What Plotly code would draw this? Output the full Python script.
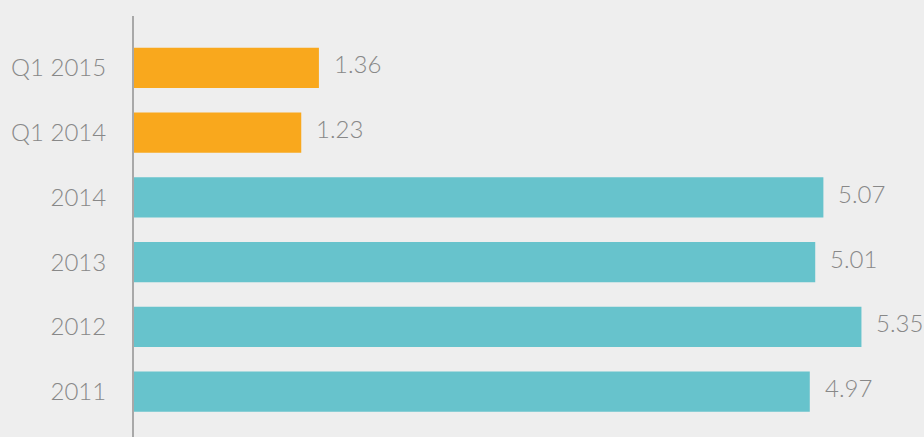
import plotly.graph_objects as go

# Periods (bottom to top) and their values
periods = ["2011", "2012", "2013", "2014", "Q1 2014", "Q1 2015"]
values = [4.97, 5.35, 5.01, 5.07, 1.23, 1.36]
value_labels = ["4.97", "5.35", "5.01", "5.07", "1.23", "1.36"]
bar_colors = ["#67C3CC", "#67C3CC", "#67C3CC", "#67C3CC", "#F9A81D", "#F9A81D"]

FONT = "Lato, 'Open Sans', sans-serif"
TEXT_COLOR = "#888888"

# Category positions on the y axis
positions = list(range(len(periods)))

fig = go.Figure(
    go.Bar(
        x=values,
        y=positions,
        orientation="h",
        marker=dict(color=bar_colors, line=dict(width=0)),
        hoverinfo="skip",
    )
)

# Value labels to the right of each bar
for pos, v, t in zip(positions, values, value_labels):
    fig.add_annotation(
        x=v, y=pos, text=t, showarrow=False,
        xanchor="left", yanchor="middle", xshift=13, yshift=4,
        font=dict(family=FONT, size=24, color=TEXT_COLOR, weight=300),
    )

fig.update_layout(
    width=924, height=437,
    margin=dict(l=134, r=0, t=16, b=0),
    paper_bgcolor="#EEEEEE",
    plot_bgcolor="#EEEEEE",
    bargap=0.38,
    showlegend=False,
    xaxis=dict(
        range=[0, 5.81], visible=False, showgrid=False, zeroline=False,
    ),
    yaxis=dict(
        tickmode="array", tickvals=positions, ticktext=periods,
        range=[-0.70, 5.80],
        showgrid=False, zeroline=False,
        showline=True, linecolor="#A8A8A8", linewidth=2,
        ticks="", ticklabelstandoff=21,
        tickfont=dict(family=FONT, size=24, color=TEXT_COLOR, weight=300),
    ),
)

fig.write_html("out.html")
